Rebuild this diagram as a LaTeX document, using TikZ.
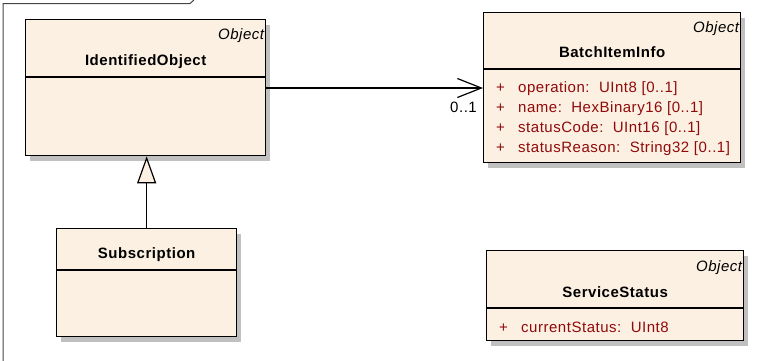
\documentclass[tikz,border=0pt]{standalone}
\usepackage{fontspec}
\setmainfont[LetterSpace=3.5]{Liberation Sans}
\usetikzlibrary{arrows.meta,positioning,shadows}

\definecolor{classfill}{RGB}{251,240,226}
\definecolor{attrred}{RGB}{145,10,10}
\definecolor{shadowgray}{RGB}{192,192,192}
\definecolor{framegray}{RGB}{70,70,70}

\begin{document}
\begin{tikzpicture}[x=1pt,y=1pt,font=\fontsize{15}{18}\selectfont,
  classbox/.style={draw=black,line width=1.3pt,fill=classfill,anchor=north west,inner sep=0pt,
    drop shadow={shadow xshift=4pt,shadow yshift=-5pt,fill=shadowgray,opacity=1}},
  sep/.style={line width=1.3pt},
  stereo/.style={anchor=base east,inner sep=0pt,font=\fontsize{15}{18}\selectfont\itshape},
  cname/.style={anchor=base,inner sep=0pt,font=\fontsize{15}{18}\selectfont\bfseries},
  attr/.style={anchor=base west,inner sep=0pt,text=attrred},
  mult/.style={anchor=base east,inner sep=0pt},
  assoc/.style={line width=1.2pt,-{Straight Barb[length=24pt,width=19pt,line width=1.2pt]}},
  gen/.style={line width=1.2pt,-{Triangle[length=27pt,width=19pt,fill=classfill,line width=1.2pt]}}]
  \useasboundingbox (0,0) rectangle (758,-360);

  % frame
  \draw[framegray,line width=1pt] (3,-362) -- (3,-3.5) -- (190,-3.5) -- (194,0);

  % classes
  \node[classbox,minimum width=240,minimum height=136] (idobj) at (25,-19) {};
  \draw[sep] ([yshift=-58]idobj.north west) -- ([yshift=-58]idobj.north east);
  \node[stereo] (idobj st) at ([xshift=-2,yshift=-20]idobj.north east) {Object};
  \node[cname] (idobj name) at ([yshift=-46]idobj.north) {IdentifiedObject};

  \node[classbox,minimum width=180,minimum height=108] (subs) at (56,-228) {};
  \draw[sep] ([yshift=-42]subs.north west) -- ([yshift=-42]subs.north east);
  \node[cname] (subs name) at ([yshift=-30]subs.north) {Subscription};

  \node[classbox,minimum width=257,minimum height=150] (bii) at (483,-12) {};
  \draw[sep] ([yshift=-57]bii.north west) -- ([yshift=-57]bii.north east);
  \node[stereo] (bii st) at ([xshift=-2,yshift=-20]bii.north east) {Object};
  \node[cname] (bii name) at ([yshift=-45]bii.north) {BatchItemInfo};
  \foreach \txt [count=\i from 0] in {operation:~~UInt8 [0..1],name:~~HexBinary16 [0..1],
      statusCode:~~UInt16 [0..1],statusReason:~~String32 [0..1]}
    \node[attr] (bii a\i) at ([xshift=13,yshift=-80-20*\i]bii.north west) {\makebox[22pt][l]{+}\txt};

  \node[classbox,minimum width=257,minimum height=90] (svc) at (486,-250) {};
  \draw[sep] ([yshift=-58]svc.north west) -- ([yshift=-58]svc.north east);
  \node[stereo] (svc st) at ([xshift=-2,yshift=-21]svc.north east) {Object};
  \node[cname] (svc name) at ([yshift=-47]svc.north) {ServiceStatus};
  \node[attr] (svc a0) at ([xshift=13,yshift=-82]svc.north west) {\makebox[22pt][l]{+}currentStatus:~~UInt8};

  % connectors
  \draw[assoc] ([yshift=-69]idobj.north east) -- ([yshift=-76]bii.north west);
  \node[mult] (bii mult) at ([xshift=-6,yshift=-100]bii.north west) {0..1};
  \draw[gen] (subs.north) -- (subs.north |- idobj.south);
\end{tikzpicture}
\end{document}
